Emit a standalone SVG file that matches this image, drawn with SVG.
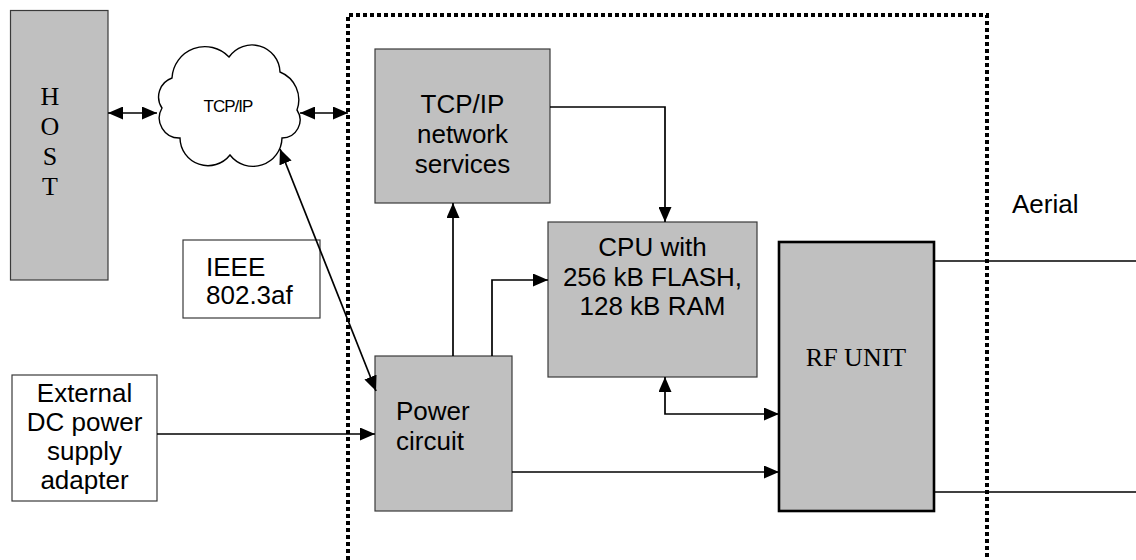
<svg xmlns="http://www.w3.org/2000/svg" width="1136" height="560" viewBox="0 0 1136 560">
<style>
.box{fill:#c0c0c0;stroke:#3a3a3a;stroke-width:1.2}
.wbox{fill:#fff;stroke:#3a3a3a;stroke-width:1.2}
.rf{fill:#c0c0c0;stroke:#000;stroke-width:2.6}
.t{font-family:"Liberation Sans",Arial,sans-serif;font-size:26px;fill:#000}
.s{font-family:"Liberation Serif","Times New Roman",serif;font-size:26px;fill:#000}
.c{fill:none;stroke:#000;stroke-width:1.7}
.dot{fill:none;stroke:#000;stroke-width:4;stroke-dasharray:4 3}
</style>
<defs>
<marker id="a" viewBox="0 0 15 13" refX="15" refY="6.5" markerUnits="userSpaceOnUse" markerWidth="15" markerHeight="13" orient="auto-start-reverse">
<path d="M0,0 L15,6.5 L0,13 z" fill="#000"/>
</marker>
</defs>

<g id="boundary">
<path class="dot" d="M348,560 V15 H987 V560"/>
</g>

<g id="host">
<rect class="box" x="10.5" y="10.5" width="97.5" height="269.5"/>
<text class="s" x="50" y="105" text-anchor="middle">H</text>
<text class="s" x="50" y="135" text-anchor="middle">O</text>
<text class="s" x="50" y="165" text-anchor="middle">S</text>
<text class="s" x="50" y="195" text-anchor="middle">T</text>
</g>

<g id="cloud">
<path fill="#fff" stroke="#000" stroke-width="1.4" d="M172,78 A33,33 0 0 1 229,57 A28,28 0 0 1 280,72 A30,30 0 0 1 297,110 A18,18 0 0 1 282,138 A29,29 0 0 1 230,155 A28,28 0 0 1 180,138 A20,20 0 0 1 162,108 A20,20 0 0 1 172,78 Z"/>
<text x="228" y="112" text-anchor="middle" font-family="'Liberation Sans',Arial,sans-serif" font-size="17" letter-spacing="-1">TCP/IP</text>
</g>

<g id="tcpip">
<rect class="box" x="375" y="49" width="175" height="154"/>
<text class="t" text-anchor="middle"><tspan x="462.5" y="113">TCP/IP</tspan><tspan x="462.5" y="143">network</tspan><tspan x="462.5" y="173">services</tspan></text>
</g>

<g id="cpu">
<rect class="box" x="548" y="222" width="209" height="155"/>
<text class="t" text-anchor="middle"><tspan x="652.5" y="256">CPU with</tspan><tspan x="652.5" y="285.5">256 kB FLASH,</tspan><tspan x="652.5" y="315">128 kB RAM</tspan></text>
</g>

<g id="rfunit">
<rect class="rf" x="779" y="242" width="155" height="269"/>
<text class="s" x="856" y="366" text-anchor="middle">RF UNIT</text>
</g>

<g id="power">
<rect class="box" x="375" y="356" width="137" height="155"/>
<text class="t"><tspan x="396" y="420">Power</tspan><tspan x="396" y="450">circuit</tspan></text>
</g>

<g id="ieee">
<rect class="wbox" x="183" y="240" width="137" height="78"/>
<text class="t"><tspan x="206" y="276">IEEE</tspan><tspan x="206" y="304">802.3af</tspan></text>
</g>

<g id="dc">
<rect class="wbox" x="12" y="375" width="145" height="126"/>
<text class="t" text-anchor="middle"><tspan x="84.5" y="402">External</tspan><tspan x="84.5" y="431">DC power</tspan><tspan x="84.5" y="460">supply</tspan><tspan x="84.5" y="489">adapter</tspan></text>
</g>

<g id="aerial">
<text class="t" x="1012" y="213">Aerial</text>
</g>

<g id="connectors">
<line class="c" x1="108" y1="113" x2="157" y2="113" marker-start="url(#a)" marker-end="url(#a)"/>
<line class="c" x1="300" y1="113" x2="348" y2="113" marker-start="url(#a)" marker-end="url(#a)"/>
<line class="c" x1="280" y1="149" x2="376" y2="391" marker-start="url(#a)" marker-end="url(#a)"/>
<polyline class="c" points="550,107 665,107 665,222" marker-end="url(#a)"/>
<line class="c" x1="453" y1="356" x2="453" y2="203" marker-end="url(#a)"/>
<polyline class="c" points="492,356 492,280 548,280" marker-end="url(#a)"/>
<polyline class="c" points="665,377 665,414 779,414" marker-start="url(#a)" marker-end="url(#a)"/>
<line class="c" x1="512" y1="472" x2="779" y2="472" marker-end="url(#a)"/>
<line class="c" x1="157" y1="434" x2="375" y2="434" marker-end="url(#a)"/>
<line class="c" x1="934" y1="261" x2="1136" y2="261"/>
<line class="c" x1="934" y1="492" x2="1136" y2="492"/>
</g>
</svg>
